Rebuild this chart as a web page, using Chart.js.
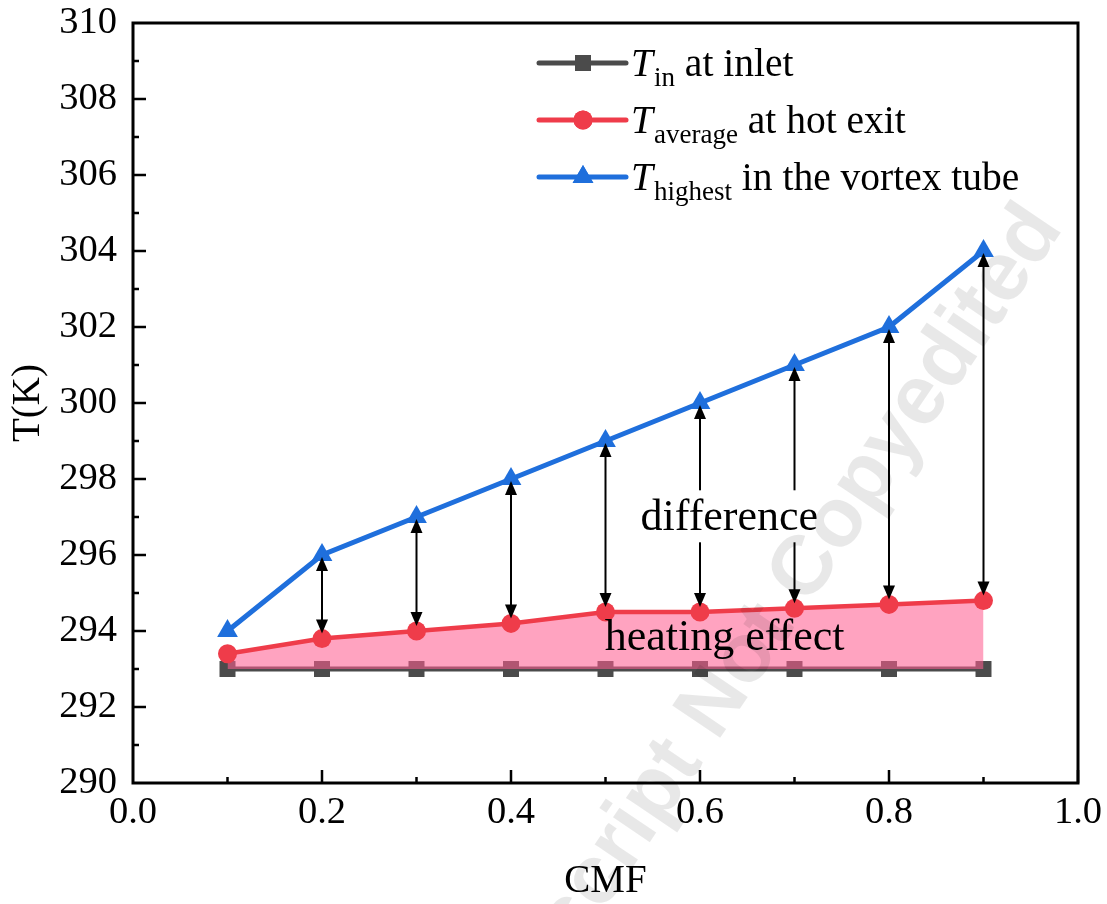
<html>

<head>
  <title>Vortex tube temperatures vs CMF</title>
  <style>
    body {
      margin: 0;
      background: #fff;
    }
    .canvas {
      width: 1107px;
      height: 904px;
      position: relative;
    }
  </style>
  <script src="https://cdn.jsdelivr.net/npm/chart.js@4.4.1/dist/chart.umd.min.js"></script>
</head>

<body>
  <div class="canvas">
    <canvas id="chart" width="1107" height="904"></canvas>
  </div>

  <script>
    const cmf = [0.1, 0.2, 0.3, 0.4, 0.5, 0.6, 0.7, 0.8, 0.9];
    const tIn = [293, 293, 293, 293, 293, 293, 293, 293, 293];
    const tAverage = [293.4, 293.8, 294.0, 294.2, 294.5, 294.5, 294.6, 294.7, 294.8];
    const tHighest = [294, 296, 297, 298, 299, 300, 301, 302, 304];
    const xTicks = [0, 0.2, 0.4, 0.6, 0.8, 1.0];
    const yTicks = [290, 292, 294, 296, 298, 300, 302, 304, 306, 308, 310];

    const serif = "'Liberation Serif', 'Times New Roman', serif";
    const colors = {
      grey: '#4b4b4b',
      red: '#ef3c4a',
      blue: '#1f6fdc',
      pink: 'rgba(255, 93, 144, 0.57)',
    };

    const toPoints = ys => cmf.map((x, i) => ({ x, y: ys[i] }));

    // frame, inward ticks, arrows, texts, legend
    const decorations = {
      id: 'decorations',
      afterDatasetsDraw(chart) {
        const ctx = chart.ctx;
        const xs = chart.scales.x;
        const ys = chart.scales.y;
        const area = chart.chartArea;

        // double arrows between highest and average
        ctx.save();
        ctx.strokeStyle = '#000';
        ctx.fillStyle = '#000';
        ctx.lineWidth = 2;
        for (let i = 1; i < cmf.length; i++) {
          const px = xs.getPixelForValue(cmf[i]);
          const top = ys.getPixelForValue(tHighest[i]) + 2;
          const bot = ys.getPixelForValue(tAverage[i]) - 5;
          ctx.beginPath();
          ctx.moveTo(px, top + 10);
          ctx.lineTo(px, bot - 10);
          ctx.stroke();
          ctx.beginPath();
          ctx.moveTo(px, top);
          ctx.lineTo(px - 6, top + 14);
          ctx.lineTo(px + 6, top + 14);
          ctx.closePath();
          ctx.fill();
          ctx.beginPath();
          ctx.moveTo(px, bot);
          ctx.lineTo(px - 6, bot - 14);
          ctx.lineTo(px + 6, bot - 14);
          ctx.closePath();
          ctx.fill();
        }
        ctx.restore();

        // labels inside the plot
        ctx.save();
        ctx.font = '44px ' + serif;
        ctx.textAlign = 'center';
        ctx.textBaseline = 'alphabetic';
        const dx = xs.getPixelForValue(0.631);
        const dy = ys.getPixelForValue(296.65);
        const w = ctx.measureText('difference').width;
        ctx.fillStyle = '#fff';
        ctx.fillRect(dx - w / 2 - 4, dy - 40, w + 8, 52);
        ctx.fillStyle = '#000';
        ctx.fillText('difference', dx, dy);
        ctx.fillText('heating effect', xs.getPixelForValue(0.626), ys.getPixelForValue(293.5));
        ctx.restore();

        // frame
        ctx.save();
        ctx.strokeStyle = '#000';
        ctx.lineWidth = 3;
        ctx.strokeRect(area.left, area.top, area.right - area.left, area.bottom - area.top);
        ctx.lineWidth = 2.5;
        ctx.beginPath();
        for (let v = 0.1; v < 1; v += 0.1) {
          const px = xs.getPixelForValue(v);
          const major = Math.round(v * 10) % 2 === 0;
          ctx.moveTo(px, area.bottom);
          ctx.lineTo(px, area.bottom - (major ? 13 : 6));
        }
        for (let v = 291; v < 310; v++) {
          const py = ys.getPixelForValue(v);
          const major = v % 2 === 0;
          ctx.moveTo(area.left, py);
          ctx.lineTo(area.left + (major ? 13 : 6), py);
        }
        ctx.stroke();
        ctx.restore();

        // axis titles
        ctx.save();
        ctx.fillStyle = '#000';
        ctx.font = '39px ' + serif;
        ctx.textAlign = 'center';
        ctx.textBaseline = 'middle';
        ctx.fillText('CMF', (area.left + area.right) / 2, 882);
        ctx.translate(29, (area.top + area.bottom) / 2);
        ctx.rotate(-Math.PI / 2);
        ctx.fillText('T(K)', 0, 0);
        ctx.restore();

        // legend with subscripts
        const rows = [
          { sub: 'in', rest: ' at inlet', color: colors.grey, style: 'rect', r: 11.3 },
          { sub: 'average', rest: ' at hot exit', color: colors.red, style: 'circle', r: 9.5 },
          { sub: 'highest', rest: ' in the vortex tube', color: colors.blue, style: 'triangle', r: 12 },
        ];
        ctx.save();
        rows.forEach((r, i) => {
          const ly = 63 + i * 57;
          ctx.strokeStyle = r.color;
          ctx.fillStyle = r.color;
          ctx.lineWidth = 5;
          ctx.lineCap = 'round';
          ctx.beginPath();
          ctx.moveTo(539, ly);
          ctx.lineTo(626, ly);
          ctx.stroke();
          Chart.helpers.drawPoint(ctx, { pointStyle: r.style, radius: r.r, rotation: 0, borderWidth: 0 }, 583, ly);
          ctx.fill();
          ctx.fillStyle = '#000';
          ctx.textBaseline = 'alphabetic';
          ctx.textAlign = 'left';
          ctx.font = 'italic 39.5px ' + serif;
          let tx = 631;
          ctx.fillText('T', tx, ly + 13);
          tx += ctx.measureText('T').width + 1;
          ctx.font = '27px ' + serif;
          ctx.fillText(r.sub, tx, ly + 23);
          tx += ctx.measureText(r.sub).width;
          ctx.font = '39.5px ' + serif;
          ctx.fillText(r.rest, tx, ly + 13);
        });
        ctx.restore();
      },
      afterDraw(chart) {
        // faint watermark
        const ctx = chart.ctx;
        ctx.save();
        ctx.translate(1064, 228);
        ctx.rotate(-56 * Math.PI / 180);
        ctx.font = "bold 84px 'Liberation Sans', Arial, sans-serif";
        ctx.fillStyle = 'rgba(0, 0, 0, 0.09)';
        ctx.textAlign = 'right';
        ctx.textBaseline = 'alphabetic';
        ctx.fillText('Accepted Manuscript Not Copyedited', 0, 0);
        ctx.restore();
      },
    };

    window.chartObj = new Chart(document.querySelector('canvas#chart'), {
      type: 'scatter',
      data: {
        datasets: [{
            label: 'T_in at inlet',
            data: toPoints(tIn),
            showLine: true,
            borderColor: colors.grey,
            backgroundColor: colors.grey,
            borderWidth: 5,
            pointStyle: 'rect',
            pointRadius: 11.3,
            pointBorderWidth: 0,
            order: 3,
          },
          {
            label: 'T_average at hot exit',
            data: toPoints(tAverage),
            showLine: true,
            borderColor: colors.red,
            backgroundColor: colors.pink,
            pointBackgroundColor: colors.red,
            borderWidth: 4.5,
            pointStyle: 'circle',
            pointRadius: 9.5,
            pointBorderWidth: 0,
            fill: 0,
            order: 2,
          },
          {
            label: 'T_highest in the vortex tube',
            data: toPoints(tHighest),
            showLine: true,
            borderColor: colors.blue,
            backgroundColor: colors.blue,
            borderWidth: 5,
            pointStyle: 'triangle',
            pointRadius: 12,
            pointBorderWidth: 0,
            order: 1,
          },
        ],
      },
      options: {
        responsive: false,
        animation: false,
        layout: {
          padding: { left: 0, top: 23, right: 29, bottom: 0 },
        },
        plugins: {
          legend: { display: false },
          tooltip: { enabled: false },
        },
        scales: {
          x: {
            type: 'linear',
            min: 0,
            max: 1,
            afterFit: scale => {
              scale.height = 121;
              scale.paddingLeft = 0;
              scale.paddingRight = 0;
            },
            afterBuildTicks: scale => { scale.ticks = xTicks.map(value => ({ value })); },
            grid: { display: false, drawTicks: false },
            border: { display: false },
            ticks: {
              color: '#000',
              padding: 7,
              font: { family: serif, size: 38.5 },
              callback: v => v.toFixed(1),
            },
          },
          y: {
            min: 290,
            max: 310,
            afterFit: scale => {
              scale.width = 133;
              scale.paddingTop = 0;
              scale.paddingBottom = 0;
            },
            afterBuildTicks: scale => { scale.ticks = yTicks.map(value => ({ value })); },
            grid: { display: false, drawTicks: false },
            border: { display: false },
            ticks: {
              color: '#000',
              padding: 16,
              font: { family: serif, size: 38.5 },
            },
          },
        },
      },
      plugins: [decorations],
    });
  </script>
</body>

</html>
